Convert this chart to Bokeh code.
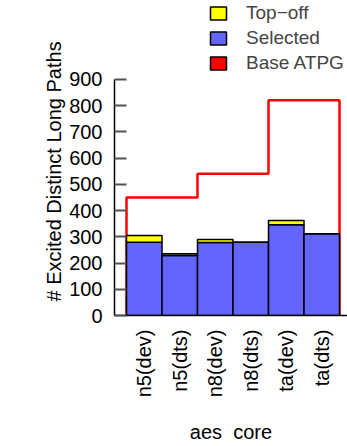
import numpy as np
from bokeh.plotting import figure
from bokeh.models import (Range1d, FixedTicker, Legend, LegendItem, Title,
                          ColumnDataSource)
from bokeh.embed import file_html
from bokeh.resources import INLINE

# ---- data ----
categories = ["n5(dev)", "n5(dts)", "n8(dev)", "n8(dts)", "ta(dev)", "ta(dts)"]
selected = [279, 229, 278, 279, 346, 311]
topoff = [26, 6, 12, 0, 16, 0]
groups = ["n5", "n8", "ta"]
base_atpg = [450, 540, 820]
y_ticks = [0, 100, 200, 300, 400, 500, 600, 700, 800, 900]
x_title = "aes\u00a0\u00a0core"
y_title = "# Excited Distinct Long Paths"

FONT = "Liberation Sans"
FS = "20px"

x = np.arange(len(categories)) + 0.5
sel = np.array(selected)
tot = sel + np.array(topoff)
src = ColumnDataSource(dict(x=x, sel=sel, tot=tot, zero=np.zeros(len(x))))

gx = np.arange(len(groups)) * 2 + 1.0
gsrc = ColumnDataSource(dict(x=gx, top=base_atpg, zero=np.zeros(len(gx))))

# frame reaches the top of the page so the legend sits inside it
p = figure(width=347, height=446, output_backend="svg", toolbar_location=None,
           x_range=Range1d(-0.338, 6.225), y_range=Range1d(0, 1200),
           min_border_left=114, min_border_right=0, min_border_top=0,
           min_border_bottom=130)
p.outline_line_color = None
p.xgrid.visible = False
p.ygrid.visible = False
p.background_fill_color = "white"

# hidden renderer only used for the legend swatch of Base ATPG
r_base = p.vbar(x="x", width=2.0, bottom="zero", top="top", source=gsrc,
                fill_color="#FF0000", line_color="black", line_width=1.5)
r_base.visible = False

# Base ATPG step outline (per design group spanning two bars)
xs, ys = [0], [0]
for i, b in enumerate(base_atpg):
    xs += [2 * i, 2 * i + 2]
    ys += [b, b]
xs.append(2 * len(base_atpg))
ys.append(0)
p.line(xs, ys, line_color="#FF0000", line_width=2.5)

r_sel = p.vbar(x="x", width=1.0, bottom="zero", top="sel", source=src,
               fill_color="#6464FF", line_color="black", line_width=1.5)
r_top = p.vbar(x="x", width=1.0, bottom="sel", top="tot", source=src,
               fill_color="#FFFF00", line_color="black", line_width=1.5)

legend = Legend(items=[LegendItem(label="Top\u2212off", renderers=[r_top]),
                       LegendItem(label="Selected", renderers=[r_sel]),
                       LegendItem(label="Base ATPG", renderers=[r_base])],
                location=(94, 240))
legend.border_line_color = None
legend.background_fill_alpha = 0
legend.inactive_fill_alpha = 0
legend.padding = 0
legend.margin = 0
legend.spacing = 0
legend.glyph_width = 20
legend.glyph_height = 16
legend.label_height = 25
legend.label_standoff = 18
legend.label_text_font = FONT
legend.label_text_font_size = "19px"
p.add_layout(legend)

# y axis
ya = p.yaxis[0]
ya.bounds = (0, 900)
ya.ticker = FixedTicker(ticks=y_ticks)
ya.major_tick_in = 12
ya.major_tick_out = 0
ya.minor_tick_line_color = None
ya.major_tick_line_color = "#555555"
ya.major_tick_line_width = 2
ya.axis_line_color = "black"
ya.axis_line_width = 1.5
ya.major_label_standoff = 12
ya.major_label_text_font = FONT
ya.major_label_text_font_size = FS
ya.major_label_text_color = "black"

# x axis
xa = p.xaxis[0]
xa.ticker = FixedTicker(ticks=list(x))
xa.major_label_overrides = {float(v): c for v, c in zip(x, categories)}
xa.major_tick_in = 0
xa.major_tick_out = 0
xa.minor_tick_line_color = None
xa.axis_line_color = "black"
xa.axis_line_width = 1.5
xa.major_label_orientation = np.pi / 2
xa.major_label_standoff = 14
xa.major_label_text_font = FONT
xa.major_label_text_font_size = FS
xa.major_label_text_color = "black"
xa.axis_label = x_title
xa.axis_label_standoff = 21
xa.axis_label_text_font = FONT
xa.axis_label_text_font_size = FS
xa.axis_label_text_font_style = "normal"
xa.axis_label_text_color = "black"

# invisible spacer between the y axis and its title
p.add_layout(Title(text=".", text_alpha=0, text_font=FONT, text_font_size=FS,
                   standoff=36), "left")
# y title, starting 14 px above the frame bottom and reading upward
p.add_layout(Title(text=y_title, align="left", offset=14,
                   text_font=FONT, text_font_size=FS, text_font_style="normal",
                   text_color="black", standoff=4), "left")

open("out.html", "w").write(file_html(p, INLINE))
